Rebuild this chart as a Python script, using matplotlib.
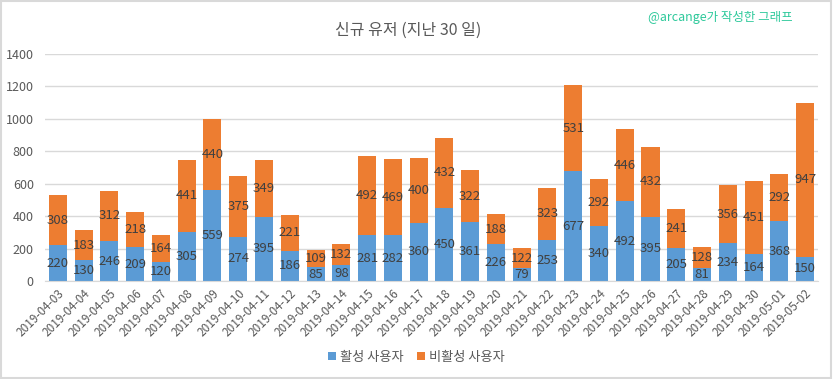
import matplotlib.pyplot as plt
import numpy as np
from matplotlib.patches import Rectangle

plt.rcParams['font.family'] = ['Noto Sans CJK KR', 'DejaVu Sans']

# 날짜와 사용자 수
dates = ['2019-04-03', '2019-04-04', '2019-04-05', '2019-04-06', '2019-04-07',
         '2019-04-08', '2019-04-09', '2019-04-10', '2019-04-11', '2019-04-12',
         '2019-04-13', '2019-04-14', '2019-04-15', '2019-04-16', '2019-04-17',
         '2019-04-18', '2019-04-19', '2019-04-20', '2019-04-21', '2019-04-22',
         '2019-04-23', '2019-04-24', '2019-04-25', '2019-04-26', '2019-04-27',
         '2019-04-28', '2019-04-29', '2019-04-30', '2019-05-01', '2019-05-02']
active = [220, 130, 246, 209, 120, 305, 559, 274, 395, 186, 85, 98, 281, 282, 360,
          450, 361, 226, 79, 253, 677, 340, 492, 395, 205, 81, 234, 164, 368, 150]
inactive = [308, 183, 312, 218, 164, 441, 440, 375, 349, 221, 109, 132, 492, 469, 400,
            432, 322, 188, 122, 323, 531, 292, 446, 432, 241, 128, 356, 451, 292, 947]
y_ticks = [0, 200, 400, 600, 800, 1000, 1200, 1400]

blue = '#5B9BD5'
orange = '#ED7D31'
text_col = '#404040'

fig = plt.figure(figsize=(8.33, 3.79), dpi=100)
ax = fig.add_axes([0.054, 0.2586, 0.928, 0.599])

x = np.arange(len(dates))
b1 = ax.bar(x, active, width=0.7, color=blue, label='활성 사용자', zorder=2)
b2 = ax.bar(x, inactive, width=0.7, bottom=active, color=orange, label='비활성 사용자', zorder=2)

ax.bar_label(b1, label_type='center', color=text_col, fontsize=9.5)
ax.bar_label(b2, label_type='center', color=text_col, fontsize=9.5)

ax.set_xlim(-0.5, len(dates) - 0.5)
ax.set_ylim(0, 1400)
ax.set_yticks(y_ticks)
ax.tick_params(axis='y', length=0, labelsize=9, labelcolor='#595959', pad=8)
ax.set_xticks(x)
ax.set_xticklabels(dates, rotation=45, ha='right', rotation_mode='anchor')
ax.tick_params(axis='x', length=0, labelsize=8.5, labelcolor='#595959', pad=4)
ax.grid(axis='y', color='#d9d9d9', linewidth=1, zorder=0)
for s in ['left', 'right', 'top']:
    ax.spines[s].set_visible(False)
ax.spines['bottom'].set_color('#d9d9d9')

fig.text(0.49, 0.92, '신규 유저 (지난 30 일)', ha='center', va='center',
         fontsize=11.5, color='#595959')
fig.text(0.951, 0.955, '@arcange가 작성한 그래프', ha='right', va='center',
         fontsize=9, color='#2EC99B')

fig.legend(handles=[b1, b2], loc='center', bbox_to_anchor=(0.5, 0.057), ncol=2,
           frameon=False, fontsize=9.5, handlelength=0.6, handleheight=0.6,
           handletextpad=0.3, columnspacing=1.0, labelcolor='#595959')

fig.add_artist(Rectangle((0.001, 0.002), 0.997, 0.995, transform=fig.transFigure,
                         fill=False, edgecolor='#d9d9d9', linewidth=1.5))

fig.savefig('out.png', dpi=100)
